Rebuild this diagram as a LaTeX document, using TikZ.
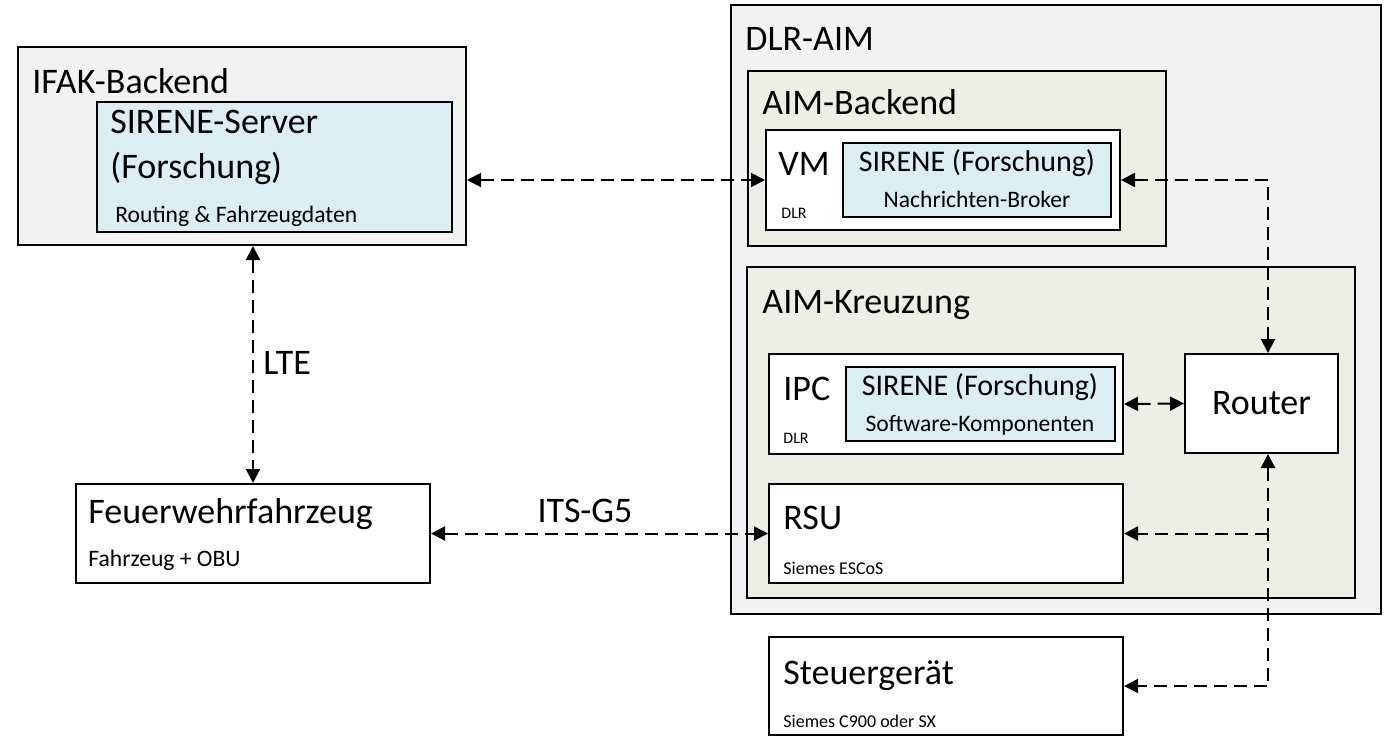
\documentclass[tikz,border=0pt]{standalone}
\usepackage{fontspec}
\setmainfont{Carlito}
\usetikzlibrary{arrows.meta,fit}
\definecolor{areagrey}{RGB}{242,242,242}
\definecolor{areaolive}{RGB}{236,239,230}
\definecolor{boxblue}{RGB}{218,238,243}
\tikzset{
  greyarea/.style={draw, line width=1pt, fill=areagrey, inner sep=0pt},
  olivearea/.style={draw, line width=1pt, fill=areaolive, inner sep=0pt},
  whitebox/.style={draw, line width=1pt, fill=white, inner sep=0pt},
  bluebox/.style={draw, line width=1pt, fill=boxblue, inner sep=0pt},
  bigtxt/.style={anchor=base west, inner sep=0pt, font=\fontsize{18}{21}\selectfont},
  sirtxt/.style={anchor=base, inner sep=0pt, font=\fontsize{15}{18}\selectfont},
  midtxt/.style={anchor=base west, inner sep=0pt, font=\fontsize{11.8}{14}\selectfont},
  smalltxt/.style={anchor=base west, inner sep=0pt, font=\fontsize{9}{11}\selectfont},
  dlrtxt/.style={anchor=base west, inner sep=0pt, font=\fontsize{8}{10}\selectfont},
  link/.style={line width=1pt, dash pattern=on 6.5pt off 3.5pt},
  >={Triangle[length=7pt,width=7pt]}
}
\begin{document}
\begin{tikzpicture}[x=0.5pt, y=-0.5pt]
\useasboundingbox (0,0) rectangle (1386,736);
\node[greyarea, fit={(18,47)(466,245)}] (ifak) {};
\node[bluebox, fit={(97,102)(452,232)}] (server) {};
\node[greyarea, fit={(731,5)(1381,614)}] (aim) {};
\node[olivearea, fit={(748,71)(1166,246)}] (backend) {};
\node[whitebox, fit={(766,130)(1120,230)}] (vm) {};
\node[bluebox, fit={(843,143)(1111,217)}] (broker) {};
\node[olivearea, fit={(747,267)(1355,598)}] (kreuzung) {};
\node[whitebox, fit={(769,354)(1123,454)}] (ipc) {};
\node[bluebox, fit={(846,367)(1115,441)}] (swk) {};
\node[whitebox, fit={(1185,354)(1338,453)}] (router) {};
\node[whitebox, fit={(769,484)(1123,583)}] (rsu) {};
\node[whitebox, fit={(76,484)(430,583)}] (fw) {};
\node[whitebox, fit={(769,637)(1123,735)}] (sg) {};
\node[bigtxt] (ifaktxt) at (32,93) {IFAK-Backend};
\node[bigtxt] (servertxt1) at (110,133) {SIRENE-Server};
\node[bigtxt] (servertxt2) at (110,178) {(Forschung)};
\node[midtxt] (servertxt3) at (115,222) {Routing \& Fahrzeugdaten};
\node[bigtxt] (aimtxt) at (745,50) {DLR-AIM};
\node[bigtxt] (backendtxt) at (762,114) {AIM-Backend};
\node[bigtxt] (vmtxt) at (778,175) {VM};
\node[dlrtxt] (vmdlr) at (781,218) {DLR};
\node[sirtxt] (brokertxt1) at (977,171) {SIRENE (Forschung)};
\node[midtxt, anchor=base] (brokertxt2) at (977,207) {Nachrichten-Broker};
\node[bigtxt] (kreuzungtxt) at (762,313) {AIM-Kreuzung};
\node[bigtxt] (ipctxt) at (783,400) {IPC};
\node[dlrtxt] (ipcdlr) at (783,443) {DLR};
\node[sirtxt] (swktxt1) at (980,395) {SIRENE (Forschung)};
\node[midtxt, anchor=base] (swktxt2) at (980,431) {Software-Komponenten};
\node[bigtxt, anchor=center] (routertxt) at (router) {Router};
\node[bigtxt] (rsutxt) at (783,529) {RSU};
\node[smalltxt] (rsusub) at (783,574) {Siemes ESCoS};
\node[bigtxt] (fwtxt) at (88,523) {Feuerwehrfahrzeug};
\node[midtxt] (fwsub) at (88,566) {Fahrzeug + OBU};
\node[bigtxt] (sgtxt) at (783,684) {Steuergerät};
\node[smalltxt] (sgsub) at (783,727) {Siemes C900 oder SX};
\node[bigtxt] (ltetxt) at (263,374) {LTE};
\node[bigtxt, anchor=base] (itstxt) at (585,522) {ITS-G5};
\coordinate (bus) at (1268,180);
\draw[link,<->] (vm.west -| ifak.east) -- (vm.west);
\draw[link,<->] (fw.north |- ifak.south) -- (fw.north);
\draw[link,<->] (fw.east) -- (rsu.west);
\draw[link,<->] (ipc.east) -- (router.west);
\draw[link,<->] (vm.east) -| (bus |- router.north);
\draw[link,<->] (bus |- router.south) |- (sg.east);
\draw[link,->] (bus |- rsu.east) -- (rsu.east);
\end{tikzpicture}
\end{document}
